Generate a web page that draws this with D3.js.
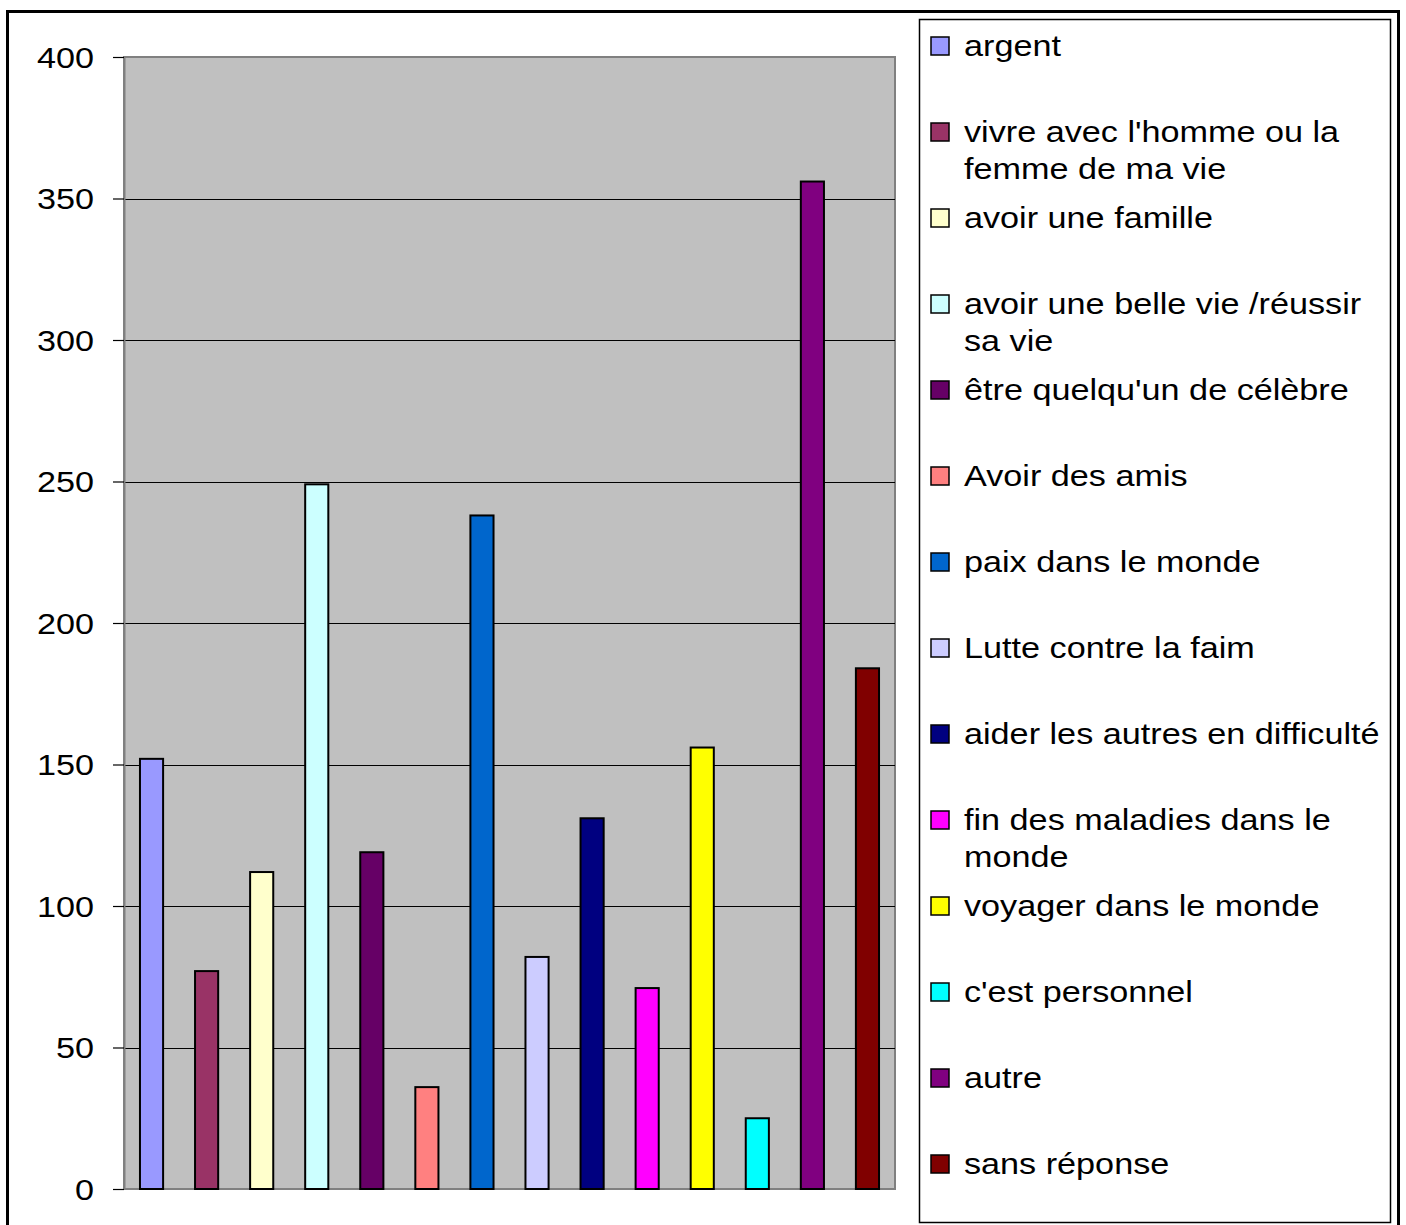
<!DOCTYPE html>
<html>
<head>
<meta charset="utf-8">
<script src="https://cdn.jsdelivr.net/npm/d3@7"></script>
<style>
  body { margin: 0; background: #fff; }
  svg text { font-family: "Liberation Sans", Arial, sans-serif; fill: #000; }
</style>
</head>
<body>
<div id="chart"></div>
<script>
// Categories (also the legend entries), one bar each
var categories = ["argent", "vivre avec l'homme ou la femme de ma vie", "avoir une famille",
  "avoir une belle vie /réussir sa vie", "être quelqu'un de célèbre", "Avoir des amis",
  "paix dans le monde", "Lutte contre la faim", "aider les autres en difficulté",
  "fin des maladies dans le monde", "voyager dans le monde", "c'est personnel",
  "autre", "sans réponse"];

// Values
var values = [152, 77, 112, 249, 119, 36, 238, 82, 131, 71, 156, 25, 356, 184];

// Bar colours (old spreadsheet palette)
var colors = ["#9999FF", "#993366", "#FFFFCC", "#CCFFFF", "#660066", "#FF8080",
  "#0066CC", "#CCCCFF", "#000080", "#FF00FF", "#FFFF00", "#00FFFF", "#800080", "#800000"];

// Y axis ticks
var yTicks = [0, 50, 100, 150, 200, 250, 300, 350, 400];

var W = 1406, H = 1225;
var plot = {left: 124, top: 57, right: 895, bottom: 1189};
var stretch = 1.14; // the source text is slightly wider than it is tall
var legendWrap = 424;

var svg = d3.select("#chart").append("svg")
    .attr("width", W)
    .attr("height", H);

// Outer frame
svg.append("rect")
    .attr("x", 7.5).attr("y", 11.5)
    .attr("width", 1391).attr("height", 1240)
    .attr("fill", "#fff")
    .attr("stroke", "#000")
    .attr("stroke-width", 3);

// Scales
var x = d3.scaleBand()
    .domain(categories)
    .range([plot.left, plot.right])
    .paddingInner(0.58)
    .paddingOuter(0.29);

var y = d3.scaleLinear()
    .domain([0, 400])
    .range([plot.bottom, plot.top]);

// Plot background
svg.append("rect")
    .attr("x", plot.left).attr("y", plot.top)
    .attr("width", plot.right - plot.left)
    .attr("height", plot.bottom - plot.top)
    .attr("fill", "#C0C0C0")
    .attr("stroke", "#808080")
    .attr("stroke-width", 2);

// Horizontal grid lines
svg.selectAll("line.grid").data(yTicks.slice(1, -1)).enter()
  .append("line")
    .attr("class", "grid")
    .attr("x1", plot.left)
    .attr("x2", plot.right)
    .attr("y1", function(d) { return Math.round(y(d)) + 0.5; })
    .attr("y2", function(d) { return Math.round(y(d)) + 0.5; })
    .attr("stroke", "#000")
    .attr("stroke-width", 1.2);

// Bars
svg.selectAll("rect.bar").data(values).enter()
  .append("rect")
    .attr("class", "bar")
    .attr("x", function(d, i) { return x(categories[i]); })
    .attr("width", x.bandwidth())
    .attr("y", function(d) { return y(d); })
    .attr("height", function(d) { return y(0) - y(d); })
    .attr("fill", function(d, i) { return colors[i]; })
    .attr("stroke", "#000")
    .attr("stroke-width", 2);

// Left axis
var axisL = svg.append("g")
    .attr("class", "axisL")
    .attr("transform", "translate(" + plot.left + ",0)")
    .call(d3.axisLeft(y).tickValues(yTicks).tickSize(11).tickSizeOuter(0));

axisL.select(".domain").attr("stroke", "#808080").attr("stroke-width", 2);
axisL.selectAll(".tick line").attr("stroke", "#000").attr("stroke-width", 1.2);
axisL.selectAll(".tick text")
    .attr("x", null)
    .attr("dy", null)
    .attr("text-anchor", "end")
    .attr("transform", "translate(-30,10) scale(" + stretch + ",1)")
    .style("font-size", "30px")
    .style("font-family", "'Liberation Sans', Arial, sans-serif")
    .attr("fill", "#000");

// Legend box
svg.append("rect")
    .attr("x", 919.5).attr("y", 19.5)
    .attr("width", 471).attr("height", 1203)
    .attr("fill", "#fff")
    .attr("stroke", "#000")
    .attr("stroke-width", 1.5);

var legend = svg.selectAll("g.legend").data(categories).enter()
  .append("g")
    .attr("class", "legend")
    .attr("transform", function(d, i) { return "translate(931," + (37 + i * 86) + ")"; });

legend.append("rect")
    .attr("width", 18)
    .attr("height", 18)
    .attr("fill", function(d, i) { return colors[i]; })
    .attr("stroke", "#000")
    .attr("stroke-width", 1.5);

// Legend labels, wrapped by measured width like the original
legend.each(function(d) {
  var g = d3.select(this);
  var words = d.split(" "), line = [], k = 0;
  var text = g.append("text")
      .attr("transform", "translate(33,19) scale(" + stretch + ",1)")
      .style("font-size", "30px");
  words.forEach(function(w) {
    line.push(w);
    text.text(line.join(" "));
    if (text.node().getComputedTextLength() * stretch > legendWrap && line.length > 1) {
      line.pop();
      text.text(line.join(" "));
      k++;
      line = [w];
      text = g.append("text")
          .attr("transform", "translate(33," + (19 + k * 37) + ") scale(" + stretch + ",1)")
          .style("font-size", "30px")
          .text(w);
    }
  });
});
</script>
</body>
</html>
